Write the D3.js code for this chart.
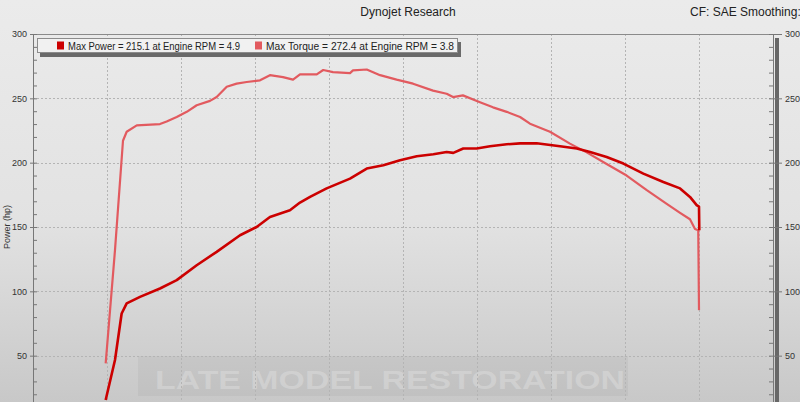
<!DOCTYPE html>
<html><head><meta charset="utf-8">
<script src="https://cdn.jsdelivr.net/npm/d3@7"></script>
<style>html,body{margin:0;padding:0;overflow:hidden;background:#e6e6e6}</style>
</head><body>
<script>
// ---- data ----
const title = "Dynojet Research";
const cfLabel = "CF: SAE Smoothing:";
const yLabel = "Power (hp)";
const legendLabels = ["Max Power = 215.1 at Engine RPM = 4.9", "Max Torque = 272.4 at Engine RPM = 3.8"];
const yTicks = [50, 100, 150, 200, 250, 300];
const xGrid = [2.0, 2.5, 3.0, 3.5, 4.0, 4.5, 5.0, 5.5, 6.0];
const powerRpm = [1.991,2.054,2.099,2.133,2.223,2.358,2.471,2.606,2.741,2.899,3.011,3.101,3.236,3.304,3.372,3.484,3.642,3.755,3.867,3.980,4.093,4.205,4.295,4.340,4.407,4.498,4.588,4.701,4.791,4.903,5.061,5.174,5.264,5.376,5.489,5.624,5.759,5.872,5.939,5.984,6.000,6.002];
const powerHp = [15.5,46.6,82.8,90.6,95.7,102.2,108.7,120.3,130.7,143.6,150,157.8,163,169,173.4,180,187.6,195.4,198,201.9,205,206.5,208.3,207.6,211,211,212.7,214.3,215,215.1,212.7,211,208.3,204.4,199.3,191.5,185,180,173.4,167,165.8,147.5];
const torqueRpm = [1.991,2.054,2.108,2.133,2.201,2.358,2.403,2.471,2.539,2.606,2.696,2.741,2.809,2.876,2.944,3.034,3.101,3.189,3.257,3.304,3.417,3.461,3.527,3.642,3.662,3.755,3.845,3.957,4.068,4.203,4.295,4.338,4.405,4.520,4.608,4.701,4.791,4.858,4.993,5.128,5.241,5.376,5.511,5.647,5.782,5.872,5.939,5.973,5.995,6.000];
const torqueVal = [44,132,217,224,229,230,232,235.5,239.5,244.6,248,251,259,261.4,262.7,264,268,266.5,264.5,268.6,268.6,272,270.4,269.6,271.7,272.4,268,264.5,261.4,256,253.6,251,252.3,247,243,239.5,235.5,230.3,224,214.8,208,199,190,178.6,168,161,156,148.5,147.5,85.4];

const W = 800, H = 402;
const powerColor = "#cc0000", torqueColor = "#e25a5f";

const svg = d3.select("body").append("svg").attr("width", W).attr("height", H)
  .style("font-family", "'Liberation Sans', Arial, sans-serif");
const defs = svg.append("defs");
const grad = defs.append("linearGradient").attr("id","bg").attr("x1",0).attr("y1",0).attr("x2",0).attr("y2",1);
grad.append("stop").attr("offset","0").attr("stop-color","#ebebeb");
grad.append("stop").attr("offset","0.55").attr("stop-color","#e2e2e2");
grad.append("stop").attr("offset","1").attr("stop-color","#c8c8c8");
svg.append("rect").attr("width",W).attr("height",H).attr("fill","url(#bg)");

const L = 33, R = 773, T = 34;
const x = d3.scaleLinear().domain([1.5, 6.5]).range([L, R]);
const y = d3.scaleLinear().domain([0, 300]).range([420, T]);

// watermark
svg.append("rect").attr("x",138).attr("y",356).attr("width",490).attr("height",40).attr("fill","#000").attr("fill-opacity",0.035);
svg.append("text").attr("x",390).attr("y",389).attr("text-anchor","middle")
  .attr("font-size", 26).attr("font-weight","bold").attr("textLength",470).attr("lengthAdjust","spacingAndGlyphs")
  .attr("fill","#ffffff").attr("fill-opacity",0.22).text("LATE MODEL RESTORATION");

// gridlines
const grid = svg.append("g").attr("stroke","#b4b4b4").attr("stroke-dasharray","2,2").attr("stroke-width",1);
grid.selectAll("line.h").data(yTicks.filter(v=>v<300)).join("line")
  .attr("x1",L).attr("x2",R).attr("y1",d=>Math.round(y(d))+0.5).attr("y2",d=>Math.round(y(d))+0.5);
grid.selectAll("line.v").data(xGrid).join("line")
  .attr("x1",d=>Math.round(x(d))+0.5).attr("x2",d=>Math.round(x(d))+0.5).attr("y1",T).attr("y2",H);

// top border
svg.append("line").attr("x1",L).attr("x2",R).attr("y1",T+0.5).attr("y2",T+0.5).attr("stroke","#8a8a8a");

// left axis
const leftAxis = d3.axisRight(y).ticks(30).tickSize(4).tickFormat("");
const la = svg.append("g").attr("transform",`translate(${L},0)`).call(leftAxis);
la.select(".domain").attr("stroke","#777");
la.selectAll(".tick line").attr("stroke","#777");
const laMajor = svg.append("g").attr("transform",`translate(${L},0)`)
  .call(d3.axisLeft(y).tickValues(yTicks).tickSize(3).tickFormat(d3.format("d")));
laMajor.select(".domain").remove();
laMajor.selectAll(".tick line").attr("stroke","#777");
laMajor.selectAll("text").attr("font-size",9).attr("fill","#333").attr("font-family","'Liberation Sans', Arial, sans-serif");

// right axis
const ra = svg.append("g").attr("transform",`translate(${R},0)`).call(d3.axisLeft(y).ticks(30).tickSize(4).tickFormat(""));
ra.select(".domain").attr("stroke","#777");
ra.selectAll(".tick line").attr("stroke","#777");
svg.append("rect").attr("x",R+2).attr("y",T+4).attr("width",4).attr("height",H-T).attr("fill","#676767");
const raMajor = svg.append("g").attr("transform",`translate(${R},0)`)
  .call(d3.axisRight(y).tickValues(yTicks).tickSize(9).tickFormat(d3.format("d")));
raMajor.select(".domain").remove();
raMajor.selectAll(".tick line").attr("stroke","#777");
raMajor.selectAll("text").attr("font-size",9).attr("fill","#333").attr("font-family","'Liberation Sans', Arial, sans-serif");

// y label
svg.append("text").attr("transform","translate(10,227) rotate(-90)").attr("text-anchor","middle")
  .attr("font-size",9).attr("fill","#333").text(yLabel);

// titles
svg.append("text").attr("x",408).attr("y",16).attr("text-anchor","middle").attr("font-size",12).attr("fill","#222").text(title);
svg.append("text").attr("x",690).attr("y",16).attr("font-size",12).attr("fill","#222").text(cfLabel);

// curves
defs.append("clipPath").attr("id","plot").append("rect").attr("x",L).attr("y",T).attr("width",R-L).attr("height",H-T);
const lineLinear = d3.line().x(d=>x(d[0])).y(d=>y(d[1]));
const g = svg.append("g").attr("clip-path","url(#plot)");
g.append("path").datum(d3.zip(torqueRpm, torqueVal)).attr("d", lineLinear)
  .attr("fill","none").attr("stroke",torqueColor).attr("stroke-width",2.2).attr("stroke-linejoin","round");
g.append("path").datum(d3.zip(powerRpm, powerHp)).attr("d", lineLinear)
  .attr("fill","none").attr("stroke",powerColor).attr("stroke-width",2.6).attr("stroke-linejoin","round");

// legend
const lg = svg.append("g");
lg.append("rect").attr("x",40).attr("y",42).attr("width",421).attr("height",15).attr("fill","#6a6a6a");
lg.append("rect").attr("x",37.5).attr("y",38.5).attr("width",420).attr("height",14).attr("fill","#f1f1f1").attr("stroke","#8c8c8c");
const items = [{c:powerColor, t:legendLabels[0], x:57, w:172}, {c:torqueColor, t:legendLabels[1], x:255, w:188}];
items.forEach(it=>{
  lg.append("rect").attr("x",it.x).attr("y",41.5).attr("width",7).attr("height",8).attr("fill",it.c);
  lg.append("text").attr("x",it.x+11).attr("y",49.5).attr("font-size",10.5)
    .attr("textLength",it.w).attr("lengthAdjust","spacingAndGlyphs").attr("fill","#222").text(it.t);
});
</script>
</body></html>
